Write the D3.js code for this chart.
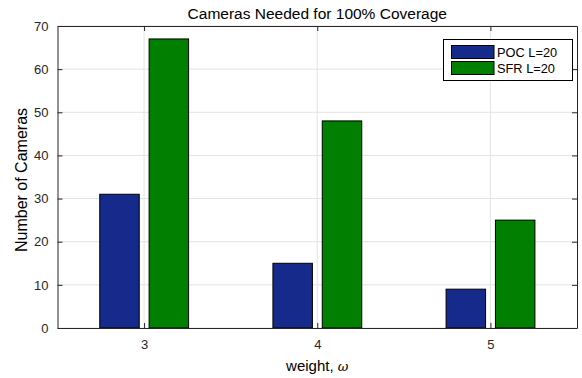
<!DOCTYPE html>
<html>
<head>
<meta charset="utf-8">
<script src="https://cdn.jsdelivr.net/npm/d3@7"></script>
<style>
  html, body { margin: 0; padding: 0; background: #fff; }
  svg { display: block; font-family: "Liberation Sans", Arial, Helvetica, sans-serif; }
</style>
</head>
<body>
<svg id="chart" width="582" height="378"></svg>
<script>
// Weights on the x axis and the camera counts for each method
const weights = [3, 4, 5];
const seriesNames = ["POC L=20", "SFR L=20"];
const pocValues = [31, 15, 9];
const sfrValues = [67, 48, 25];
const yTicks = [0, 10, 20, 30, 40, 50, 60, 70];
const colors = ["#152a8a", "#007f00"];

const svg = d3.select("#chart");
const m = { left: 57.5, right: 577, top: 26, bottom: 328 };
const axisColor = "#262626";
const gridColor = "#e3e3e3";

const x = d3.scaleLinear().domain([2.5, 5.5]).range([m.left, m.right]);
const y = d3.scaleLinear().domain([0, 70]).range([m.bottom, m.top]);

// grid lines
const grid = svg.append("g");
grid.selectAll("line.h").data(yTicks).join("line")
  .attr("x1", m.left).attr("x2", m.right)
  .attr("y1", d => y(d)).attr("y2", d => y(d))
  .attr("stroke", gridColor).attr("stroke-width", 1);
grid.selectAll("line.v").data(weights).join("line")
  .attr("x1", d => x(d)).attr("x2", d => x(d))
  .attr("y1", m.top).attr("y2", m.bottom)
  .attr("stroke", gridColor).attr("stroke-width", 1);

// grouped bars
const barW = 0.228;
const offsets = [-0.142, 0.143];
const series = [pocValues, sfrValues];
series.forEach((vals, si) => {
  svg.append("g").selectAll("rect").data(vals).join("rect")
    .attr("x", (d, i) => x(weights[i] + offsets[si] - barW / 2))
    .attr("width", (d, i) => x(weights[i] + offsets[si] + barW / 2) - x(weights[i] + offsets[si] - barW / 2))
    .attr("y", d => y(d))
    .attr("height", d => y(0) - y(d))
    .attr("fill", colors[si])
    .attr("stroke", "#000").attr("stroke-width", 1);
});

// axes: box plus inward ticks
const yAxis = d3.axisLeft(y).tickValues(yTicks).tickSizeInner(-5).tickSizeOuter(0).tickPadding(9);
const gy = svg.append("g").attr("transform", `translate(${m.left},0)`).call(yAxis);
const yRight = d3.axisRight(y).tickValues(yTicks).tickSizeInner(-5).tickSizeOuter(0).tickFormat("");
const gyr = svg.append("g").attr("transform", `translate(${m.right},0)`).call(yRight);
const xAxis = d3.axisBottom(x).tickValues(weights).tickSizeInner(-5).tickSizeOuter(0).tickPadding(12).tickFormat(d3.format("d"));
const gx = svg.append("g").attr("transform", `translate(0,${m.bottom})`).call(xAxis);
const xTop = d3.axisTop(x).tickValues(weights).tickSizeInner(-5).tickSizeOuter(0).tickFormat("");
const gxt = svg.append("g").attr("transform", `translate(0,${m.top})`).call(xTop);

[gy, gyr, gx, gxt].forEach(g => {
  g.select(".domain").attr("stroke", axisColor).attr("stroke-width", 1);
  g.selectAll(".tick line").attr("stroke", axisColor).attr("stroke-width", 1);
  g.selectAll(".tick text").attr("fill", axisColor)
    .attr("font-size", 13).attr("font-family", "Liberation Sans, Arial, sans-serif");
});

// title and axis labels
svg.append("text").attr("x", (m.left + m.right) / 2).attr("y", 18.5)
  .attr("text-anchor", "middle").attr("font-size", 15.5).attr("fill", "#000")
  .text("Cameras Needed for 100% Coverage");

const xl = svg.append("text").attr("x", (m.left + m.right) / 2).attr("y", 371)
  .attr("text-anchor", "middle").attr("font-size", 15).attr("fill", "#000");
xl.append("tspan").text("weight, ");
xl.append("tspan").attr("font-family", "DejaVu Serif, serif").attr("font-style", "italic")
  .attr("font-size", 13).text("ω");

svg.append("text")
  .attr("transform", `translate(26.5,${(m.top + m.bottom) / 2 + 3}) rotate(-90)`)
  .attr("text-anchor", "middle").attr("font-size", 16).attr("fill", "#000")
  .text("Number of Cameras");

// legend
const lg = svg.append("g");
lg.append("rect").attr("x", 443.5).attr("y", 39.5).attr("width", 129).attr("height", 41)
  .attr("fill", "#fff").attr("stroke", "#000").attr("stroke-width", 1);
seriesNames.forEach((name, i) => {
  const cy = 52 + i * 16;
  lg.append("rect").attr("x", 451.5).attr("y", cy - 6.5).attr("width", 42.5).attr("height", 13)
    .attr("fill", colors[i]).attr("stroke", "#000").attr("stroke-width", 1);
  lg.append("text").attr("x", 497).attr("y", cy + 4.5).attr("font-size", 12.8).attr("fill", "#000")
    .text(name);
});
</script>
</body>
</html>
